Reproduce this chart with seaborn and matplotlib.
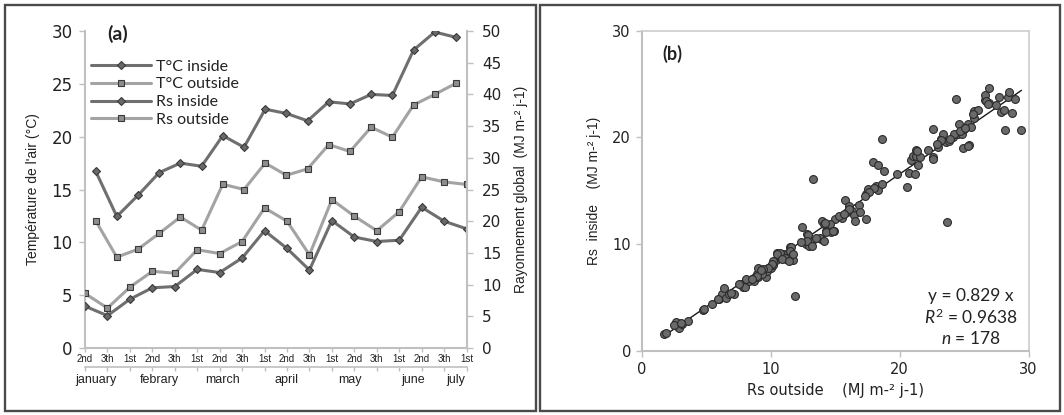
import numpy as np
import seaborn as sns
import matplotlib
matplotlib.use("Agg")
import matplotlib.pyplot as plt
from matplotlib.patches import Rectangle

sns.set_theme(style="white")
plt.rcParams['font.family'] = ['Liberation Sans', 'DejaVu Sans']
plt.rcParams['mathtext.fontset'] = 'custom'
plt.rcParams['mathtext.rm'] = 'Lato'
plt.rcParams['mathtext.it'] = 'Lato:italic'

# ---- data (a): decades of each month ----
decades = ["2nd", "3th", "1st"] * 6
months = ["january", "febrary", "march", "april", "may", "june", "july"]

t_inside = [16.75, 12.45, 14.45, 16.6, 17.5, 17.2, 20.1, 19.0, 22.6, 22.2,
            21.5, 23.3, 23.1, 24.0, 23.9, 28.2, 29.9, 29.4]
t_outside = [12.05, 8.6, 9.35, 10.85, 12.4, 11.15, 15.5, 15.0, 17.5, 16.35,
             16.95, 19.25, 18.6, 20.9, 19.95, 23.0, 24.0, 25.05]
rs_inside = [6.6, 5.1, 7.7, 9.5, 9.7, 12.4, 11.9, 14.2, 18.5, 15.7,
             12.3, 20.1, 17.5, 16.8, 17.0, 22.2, 20.0, 18.8]
rs_outside = [8.6, 6.3, 9.6, 12.1, 11.8, 15.5, 14.9, 16.8, 22.1, 20.0,
              14.7, 23.4, 20.8, 18.5, 21.5, 27.0, 26.2, 25.8]

# ---- data (b): daily Rs outside vs inside ----
rs_out_pts = [1.7, 1.9, 2.6, 2.7, 2.85, 3.1, 3.6, 4.7, 4.8, 5.4, 6.0, 6.2, 6.35, 6.5, 6.75,
              7.1, 7.65, 7.8, 8.0, 8.3, 8.7, 8.9, 9.0, 9.0, 9.4, 9.6, 9.7, 10.0, 10.2, 10.4,
              10.5, 10.75, 10.95, 11.15, 11.3, 11.5, 11.5, 11.7, 11.85, 12.4, 12.7, 12.8, 12.95,
              13.2, 13.3, 13.9, 14.0, 14.1, 14.25, 14.5, 14.7, 14.9, 15.0, 15.55, 15.75, 15.9,
              16.05, 16.3, 16.45, 16.5, 16.85, 16.9, 17.35, 17.35, 17.5, 17.9, 18.15, 18.3, 18.3,
              18.65, 18.75, 18.65, 19.8, 20.55, 20.7, 20.85, 21.0, 21.2, 21.25, 21.3, 21.4, 21.6,
              22.55, 22.6, 23.0, 23.2, 23.35, 23.6, 23.65, 23.85, 24.1, 24.35, 24.5, 24.6, 24.8,
              24.9, 25.0, 25.3, 25.4, 25.5, 25.75, 25.8, 26.05, 26.6, 26.65, 26.95, 26.9, 27.5,
              27.7, 27.85, 28.1, 28.2, 28.4, 28.5, 28.7, 28.95, 29.45,
              14.6, 14.2, 14.3, 14.8, 13.8, 14.1, 12.9, 12.8, 13.2, 11.6, 11.5, 11.75, 10.7,
              10.45, 11.1, 10.85, 11.4, 10.2, 10.05, 9.8, 9.4, 9.3, 8.9, 8.1,
              23.2, 21.35, 18.0, 17.6, 17.3, 26.7, 26.85, 25.7, 25.3, 22.6,
              24.2, 24.7, 25.1, 23.9, 22.9, 22.2, 2.5, 3.0, 5.9, 6.9, 7.5, 8.5, 9.2,
              15.3, 16.1, 15.7, 13.5, 12.3]
rs_in_pts = [1.6, 1.7, 2.7, 2.35, 2.2, 2.5, 2.8, 3.8, 3.9, 4.4, 4.85, 5.3, 5.9, 5.0, 5.3,
             5.3, 6.25, 5.95, 6.0, 6.6, 6.6, 7.2, 6.9, 7.8, 7.2, 6.9, 7.5, 7.8, 8.1, 8.5,
             9.2, 8.75, 9.1, 8.6, 9.2, 8.9, 9.7, 8.5, 5.15, 11.65, 10.0, 10.95, 9.85,
             10.3, 16.1, 10.5, 12.2, 11.9, 11.25, 11.6, 11.1, 11.25, 12.4, 12.5, 14.15, 13.0,
             13.6, 13.15, 12.7, 12.15, 13.7, 13.0, 12.35, 14.7, 15.2, 17.7, 15.5, 17.4, 15.1,
             19.9, 16.9, 15.65, 16.6, 15.35, 16.65, 17.85, 18.3, 16.6, 18.3, 18.8, 17.4, 18.2,
             20.8, 18.2, 19.1, 19.9, 20.35, 19.6, 12.05, 19.7, 20.0, 23.6, 20.35, 21.3, 20.35,
             19.0, 20.8, 21.3, 19.3, 21.0, 21.85, 22.45, 22.6, 23.5, 23.95, 24.6, 23.2, 23.0,
             23.8, 22.4, 22.55, 20.7, 23.8, 24.25, 22.3, 23.6, 20.7,
             11.9, 12.0, 11.1, 11.25, 10.6, 10.3, 10.9, 10.3, 9.85, 9.7, 9.4, 9.05, 9.2,
             9.05, 8.7, 8.6, 8.45, 8.45, 8.15, 7.8, 7.65, 7.2, 7.0, 6.7,
             19.8, 18.75, 15.3, 14.9, 14.5, 23.4, 23.1, 22.2, 19.2, 18.0,
             20.3, 20.6, 20.9, 19.9, 19.4, 18.8, 2.4, 2.6, 4.9, 5.4, 6.3, 6.7, 7.6,
             12.6, 13.3, 12.8, 10.6, 10.2]
slope = 0.829

# ---- styles ----
dark_line, light_line = "#6f6f6f", "#a3a3a3"
dark_face, light_face = "#686868", "#8e8e8e"
edge = "#3a3a3a"
axis_gray = "#c0c0c0"
text_col = "#222222"
wide = "DejaVu Sans"

fig = plt.figure(figsize=(10.64, 4.15), dpi=100)
for x0, w in [(0.0047, 0.4995), (0.5075, 0.4887)]:
    fig.patches.append(Rectangle((x0, 0.0096), w, 0.978, transform=fig.transFigure,
                                 fill=False, ec="#4a4a4a", lw=1.7))

# ================= panel (a) =================
ax = fig.add_axes([0.0799, 0.1614, 0.3586, 0.7639])
ax2 = ax.twinx()
n = len(decades)
pos_rs = np.arange(n)
pos_t = (np.arange(n) + 0.5) * (n - 1) / n

sns.lineplot(x=pos_t, y=t_inside, ax=ax, color=dark_line, lw=2.2, marker="D", ms=4.4,
             mfc=dark_face, mec=edge, mew=0.8, label="T°C inside")
sns.lineplot(x=pos_t, y=t_outside, ax=ax, color=light_line, lw=2.2, marker="s", ms=5,
             mfc=light_face, mec=edge, mew=0.8, label="T°C outside")
sns.lineplot(x=pos_rs, y=rs_inside, ax=ax2, color=dark_line, lw=2.2, marker="D", ms=4.4,
             mfc=dark_face, mec=edge, mew=0.8, label="Rs inside")
sns.lineplot(x=pos_rs, y=rs_outside, ax=ax2, color=light_line, lw=2.2, marker="s", ms=5,
             mfc=light_face, mec=edge, mew=0.8, label="Rs outside")

h1, l1 = ax.get_legend_handles_labels()
h2, l2 = ax2.get_legend_handles_labels()
for a in (ax, ax2):
    if a.get_legend() is not None:
        a.get_legend().remove()
ax2.legend(h1 + h2, l1 + l2, loc="upper left", bbox_to_anchor=(0.017, 0.91),
           frameon=False, borderpad=0, borderaxespad=0, handlelength=3.7,
           handletextpad=0.35, labelspacing=0.22, numpoints=1,
           prop={"family": "Lato", "size": 11.5}, labelcolor=text_col)

ax.set_xlim(0, n - 1)
ax.set_ylim(0, 30)
ax.set_yticks(range(0, 31, 5))
ax2.set_ylim(0, 50)
ax2.set_yticks(range(0, 51, 5))
ax.set_xticks(pos_rs)
ax.set_xticklabels(decades)

for a in (ax, ax2):
    for s in a.spines.values():
        s.set_visible(False)
        s.set_color(axis_gray)
        s.set_linewidth(1.5)
ax.spines["left"].set_visible(True)
ax.spines["bottom"].set_visible(True)
ax2.spines["right"].set_visible(True)

ax.tick_params(axis="y", left=True, direction="out", length=4, width=1, color=axis_gray,
               labelsize=12, pad=5, labelcolor=text_col, labelfontfamily=wide)
ax2.tick_params(axis="y", right=True, direction="out", length=4, width=1, color=axis_gray,
                labelsize=11, pad=7, labelcolor=text_col, labelfontfamily=wide)
ax.tick_params(axis="x", bottom=True, direction="out", length=3, width=1, color=axis_gray,
               labelsize=7, pad=1.5, labelcolor=text_col)

sec = ax.secondary_xaxis(-0.059)
sec.set_xticks(pos_rs, labels=[""] * n)
month_pos = np.array([0.5, 3.5, 6.5, 9.5, 12.5, 15.5, 17.5]) * (n - 1) / n
sec.set_xticks(month_pos, labels=months, minor=True)
sec.tick_params(which="major", direction="out", length=3, width=1, color=axis_gray)
sec.tick_params(which="minor", length=0, labelsize=9, pad=5, labelcolor=text_col)
sec.spines["bottom"].set_color(axis_gray)
sec.spines["bottom"].set_linewidth(1.2)

ax.set_ylabel("Température de l'air (°C)", fontsize=10, labelpad=8, color=text_col)
ax2.set_ylabel("Rayonnement global  (MJ m-² j-1)", fontsize=10, labelpad=9, color=text_col)
ax.set_xlabel("")
ax.text(0.057, 0.99, "(a)", transform=ax.transAxes, fontsize=14, fontweight="bold",
        family="Lato", color=text_col, va="center")

# ================= panel (b) =================
axs = fig.add_axes([0.6034, 0.1542, 0.3633, 0.7718])
sns.scatterplot(x=rs_out_pts, y=rs_in_pts, ax=axs, s=32, color="#6a6a6a",
                edgecolor="#2b2b2b", linewidth=0.8, zorder=3)
xs = np.array([min(rs_out_pts), max(rs_out_pts)])
axs.plot(xs, slope * xs, color="#1a1a1a", lw=1, zorder=2)

axs.set_xlim(0, 30)
axs.set_ylim(0, 30)
axs.set_xticks([0, 10, 20, 30])
axs.set_yticks([0, 10, 20, 30])
for s in axs.spines.values():
    s.set_color("#cccccc")
    s.set_linewidth(1.2)
axs.spines["left"].set_color(axis_gray)
axs.spines["bottom"].set_color(axis_gray)
axs.spines["left"].set_linewidth(1.5)
axs.spines["bottom"].set_linewidth(1.5)
axs.tick_params(left=True, bottom=True, direction="out", length=4, width=1, color=axis_gray,
                labelsize=10.5, labelcolor=text_col, labelfontfamily=wide)
axs.tick_params(axis="y", pad=4)
axs.tick_params(axis="x", pad=4)
axs.set_xlabel("Rs outside    (MJ m-² j-1)", fontsize=10.5, labelpad=4, color=text_col,
               family=wide)
axs.set_ylabel("Rs  inside    (MJ m-² j-1)", fontsize=10, labelpad=8, color=text_col)

axs.text(0.052, 0.929, "(b)", transform=axs.transAxes, fontsize=13, fontweight="bold",
         family="Lato", color=text_col, va="center")
axs.text(0.851, 0.105, "y = 0.829 x\n$R^2$ = 0.9638\n$n$ = 178", transform=axs.transAxes,
         ha="center", va="center", fontsize=12.5, family="Lato", color=text_col,
         linespacing=1.2)

fig.savefig("out.png", dpi=100)
